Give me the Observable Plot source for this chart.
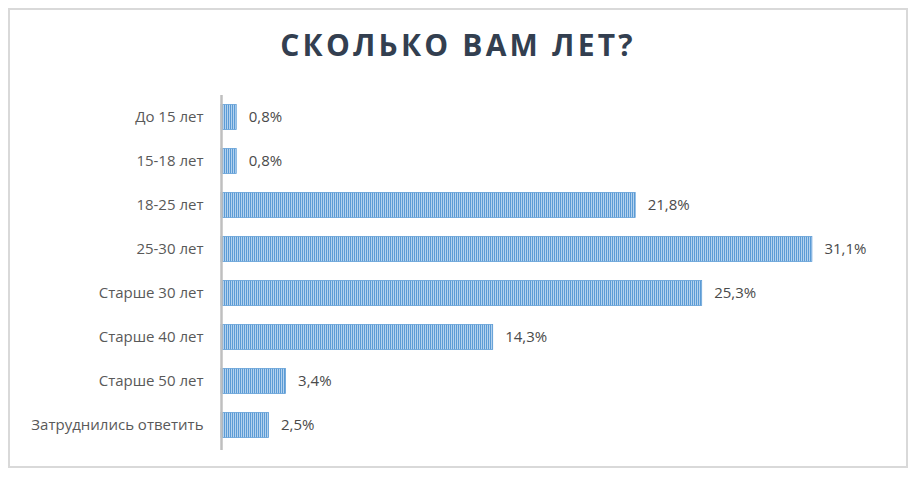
<!DOCTYPE html>
<html>
<head>
<meta charset="utf-8">
<script src="https://cdn.jsdelivr.net/npm/d3@7"></script>
<script src="https://cdn.jsdelivr.net/npm/@observablehq/plot@0.6"></script>
<style>
  html, body { margin: 0; padding: 0; background: #fff; }
  #page { position: relative; width: 916px; height: 477px; overflow: hidden; font-family: "Open Sans", sans-serif; }
  #frame { position: absolute; left: 8px; top: 8px; width: 896px; height: 456px; border: 2px solid #d9d9d9; }
  #title { position: absolute; left: 0; top: 25px; width: 916px; text-align: center; font-size: 30px; line-height: 40px; font-weight: 700; letter-spacing: 3.2px; color: #333f50; }
  #chart { position: absolute; left: 0; top: 90px; }
</style>
</head>
<body>
<div id="page">
  <div id="frame"></div>
  <div id="title">СКОЛЬКО ВАМ ЛЕТ?</div>
  <div id="chart"></div>
</div>
<script>
const categories = ["До 15 лет", "15-18 лет", "18-25 лет", "25-30 лет", "Старше 30 лет", "Старше 40 лет", "Старше 50 лет", "Затруднились ответить"];
const values = [0.8, 0.8, 21.8, 31.1, 25.3, 14.3, 3.4, 2.5];

const data = categories.map((c, i) => ({category: c, value: values[i]}));
const fmt = v => v.toFixed(1).replace(".", ",") + "%";

const plot = Plot.plot({
  width: 916,
  height: 370,
  marginLeft: 221,
  marginRight: 30,
  marginTop: 5,
  marginBottom: 13,
  style: {fontFamily: "Open Sans, sans-serif", fontSize: "15px", color: "#595959", background: "transparent"},
  x: {domain: [0, 35], axis: null},
  y: {domain: categories, padding: 0, label: null},
  marks: [
    Plot.barX(data, {x: "value", y: "category", fill: "#5b9bd5", insetTop: 9.5, insetBottom: 9.5}),
    Plot.ruleX([0], {stroke: "#bfbfbf", strokeWidth: 2.5, insetBottom: -3}),
    Plot.text(data, {x: "value", y: "category", text: d => fmt(d.value), textAnchor: "start", dx: 12, fill: "#4a4a4a", fontSize: 15}),
    Plot.axisY({tickSize: 0, tickPadding: 18, fill: "#595959", fontSize: 15, label: null})
  ]
});

// striped pattern fill for bars
const ns = "http://www.w3.org/2000/svg";
const defs = document.createElementNS(ns, "defs");
defs.innerHTML = '<pattern id="stripes" patternUnits="userSpaceOnUse" x="0" y="0" width="2" height="4">' +
  '<rect x="0" y="0" width="1" height="4" fill="#5b9bd5"/>' +
  '<rect x="1" y="0" width="1" height="4" fill="#b4d2ee"/></pattern>';
plot.insertBefore(defs, plot.firstChild);
plot.querySelectorAll("g[aria-label='bar'] rect").forEach(r => {
  r.setAttribute("fill", "url(#stripes)");
  r.setAttribute("stroke", "#5b9bd5");
  r.setAttribute("stroke-width", "0.75");
});
document.getElementById("chart").appendChild(plot);
</script>
</body>
</html>
